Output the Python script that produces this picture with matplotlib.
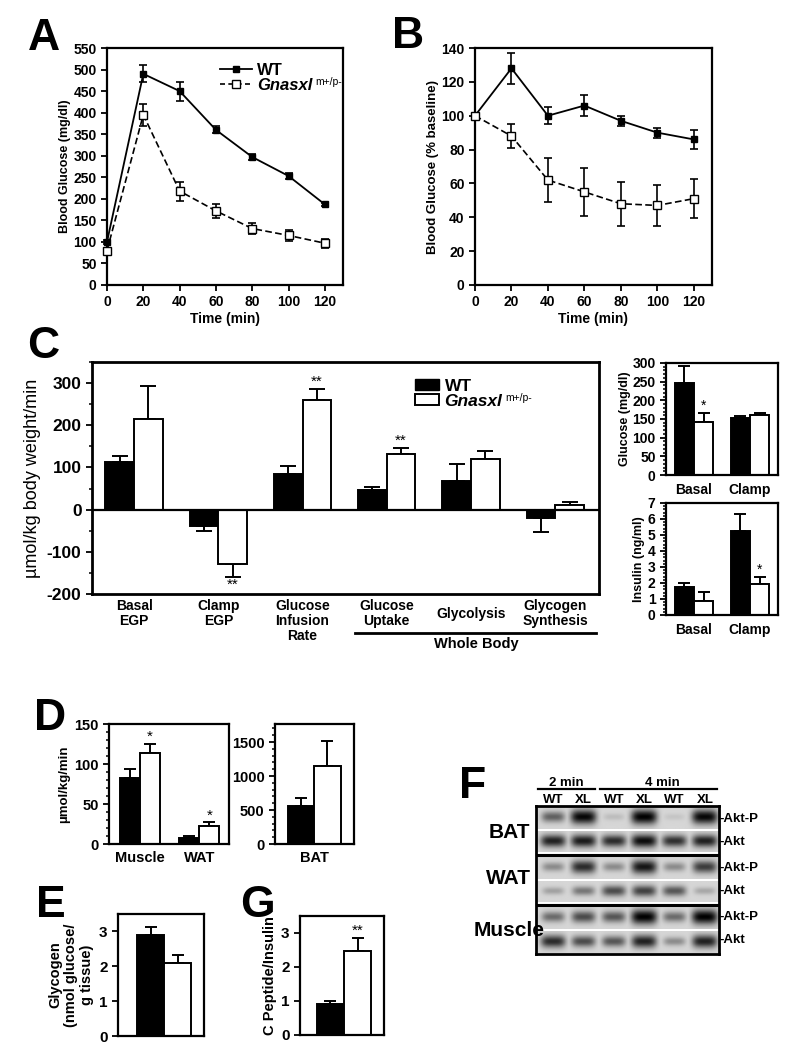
import numpy as np
import matplotlib
matplotlib.use('Agg')
import matplotlib.pyplot as plt
import matplotlib.transforms as mtransforms
from matplotlib.lines import Line2D
from matplotlib.patches import Patch
from matplotlib.ticker import MultipleLocator

plt.rcParams['font.family'] = ['Liberation Sans', 'DejaVu Sans']
plt.rcParams['font.weight'] = 'bold'
plt.rcParams['axes.labelweight'] = 'bold'
plt.rcParams['axes.unicode_minus'] = False

# ---- A: glucose tolerance ----
time_min = [0, 20, 40, 60, 80, 100, 120]
gtt_wt = [100, 490, 450, 360, 297, 253, 187]
gtt_wt_err = [5, 20, 22, 8, 8, 8, 4]
gtt_xl = [80, 395, 218, 172, 131, 115, 97]
gtt_xl_err = [6, 25, 22, 17, 12, 12, 10]

# ---- B: insulin tolerance ----
itt_wt = [100, 128, 100, 106, 97, 90, 86]
itt_wt_err = [0, 9, 5, 6, 3, 3, 5.5]
itt_xl = [100, 88, 62, 55, 48, 47, 51]
itt_xl_err = [0, 7, 13, 14, 13, 12, 11.5]

# ---- C: clamp ----
clamp_cats = ['Basal\nEGP', 'Clamp\nEGP', 'Glucose\nInfusion\nRate',
              'Glucose\nUptake', 'Glycolysis', 'Glycogen\nSynthesis']
clamp_wt = [113, -39, 85, 47, 67, -21]
clamp_wt_err = [15, 12, 18, 6, 41, 33]
clamp_xl = [215, -129, 260, 132, 120, 12]
clamp_xl_err = [79, 30, 26, 14, 18, 7]
clamp_stars = ['', '**', '**', '**', '', '']

cond_cats = ['Basal', 'Clamp']
glu_wt = [246, 152]
glu_wt_err = [47, 5]
glu_xl = [143, 161]
glu_xl_err = [23, 5]
glu_stars = ['*', '']
ins_wt = [1.77, 5.22]
ins_wt_err = [0.23, 1.1]
ins_xl = [0.9, 1.94]
ins_xl_err = [0.52, 0.42]
ins_stars = ['', '*']

# ---- D: tissue glucose uptake ----
tissue_cats = ['Muscle', 'WAT']
tis_wt = [82, 8]
tis_wt_err = [12, 2]
tis_xl = [114, 22]
tis_xl_err = [11, 5]
tis_stars = ['*', '*']
bat_cat = ['BAT']
bat_wt = [560]
bat_wt_err = [117]
bat_xl = [1147]
bat_xl_err = [368]

# ---- E / G ----
glycogen_wt = [2.9]
glycogen_wt_err = [0.23]
glycogen_xl = [2.1]
glycogen_xl_err = [0.23]
cpep_wt = [0.91]
cpep_wt_err = [0.1]
cpep_xl = [2.46]
cpep_xl_err = [0.39]

# ---- F: western blot band darkness (0-1) ----
blot_lanes = ['WT', 'XL', 'WT', 'XL', 'WT', 'XL']
blot_tissues = ['BAT', 'WAT', 'Muscle']
bat_aktp = [0.55, 0.97, 0.12, 1.0, 0.08, 0.97]
bat_akt = [0.85, 0.88, 0.8, 0.95, 0.78, 0.86]
wat_aktp = [0.35, 0.8, 0.35, 0.9, 0.35, 0.72]
wat_akt = [0.25, 0.45, 0.65, 0.7, 0.6, 0.22]
mus_aktp = [0.5, 0.65, 0.6, 1.0, 0.5, 1.0]
mus_akt = [0.8, 0.65, 0.6, 0.85, 0.35, 0.85]

W, H = 800, 1052
fig = plt.figure(figsize=(8, 10.52), dpi=100)


def px_axes(x0, y0, x1, y1):
    return fig.add_axes([x0 / W, 1 - y1 / H, (x1 - x0) / W, (y1 - y0) / H])


def fx(x):
    return x / W


def fy(y):
    return 1 - y / H


def style(ax, fs, lw=1.6):
    for s in ax.spines.values():
        s.set_linewidth(lw)
    ax.tick_params(direction='out', width=1.3, length=4, labelsize=fs)
    ax.tick_params(which='minor', direction='out', width=1.1, length=2.5)


def panel_letter(x, y, s):
    fig.text(fx(x), fy(y), s, fontsize=32, fontweight='bold', va='baseline')


def two_bars(ax, x, wt, wt_err, xl, xl_err, w=0.34, cap=4, stars=None, fs=10):
    x = np.asarray(x, dtype=float)
    ax.bar(x - w / 2, wt, w, color='black', edgecolor='black', lw=1.4, zorder=2)
    ax.bar(x + w / 2, xl, w, color='white', edgecolor='black', lw=1.4, zorder=2)
    for xs, v, e in ((x - w / 2, wt, wt_err), (x + w / 2, xl, xl_err)):
        v = np.asarray(v, dtype=float)
        e = np.asarray(e, dtype=float)
        lo = np.where(v < 0, e, 0)
        hi = np.where(v >= 0, e, 0)
        ax.errorbar(xs, v, yerr=[lo, hi], fmt='none', ecolor='black',
                    elinewidth=1.4, capsize=cap, capthick=1.4, zorder=1)
    if stars:
        for xi, v, e, s in zip(x + w / 2, xl, xl_err, stars):
            if not s:
                continue
            if v >= 0:
                ax.annotate(s, (xi, v + e), xytext=(0, 0), textcoords='offset points',
                            ha='center', va='bottom', fontsize=fs, fontweight='normal')
            else:
                ax.annotate(s, (xi, v - e), xytext=(0, -1), textcoords='offset points',
                            ha='center', va='top', fontsize=fs, fontweight='normal')


sup_after = []  # legend texts that get the m+/p- superscript

# ================= A =================
axA = px_axes(107, 48, 343, 285)
axA.errorbar(time_min, gtt_wt, yerr=gtt_wt_err, color='black', marker='s', ms=4,
             mfc='black', lw=1.3, capsize=3, elinewidth=1.2, capthick=1.2,
             clip_on=False, zorder=3)
axA.errorbar(time_min, gtt_xl, yerr=gtt_xl_err, color='black', marker='s', ms=6,
             mfc='white', lw=1.2, ls=(0, (4, 2)), capsize=3, elinewidth=1.2,
             capthick=1.2, clip_on=False, zorder=4)
axA.set_xlim(0, 130)
axA.set_ylim(0, 550)
axA.set_xticks(time_min)
axA.set_yticks(np.arange(0, 551, 50))
axA.set_xlabel('Time (min)', fontsize=10, labelpad=2)
axA.set_ylabel('Blood Glucose (mg/dl)', fontsize=9, labelpad=2)
style(axA, 10)
h_wt = Line2D([], [], color='black', marker='s', ms=4, lw=1.3)
h_xl = Line2D([], [], color='black', marker='s', ms=6, mfc='white', lw=1.2, ls=(0, (3, 2)))
leg = axA.legend([h_wt, h_xl], ['WT', 'Gnasxl'], loc='upper left',
                 bbox_to_anchor=(0.43, 0.985), frameon=False, fontsize=12,
                 handlelength=1.9, handletextpad=0.3, labelspacing=0.0, borderpad=0.2)
leg.get_texts()[1].set_fontstyle('italic')
sup_after.append(leg.get_texts()[1])
panel_letter(28, 50, 'A')

# ================= B =================
axB = px_axes(475, 48, 712, 285)
axB.errorbar(time_min, itt_wt, yerr=itt_wt_err, color='black', marker='s', ms=4,
             mfc='black', lw=1.3, capsize=3, elinewidth=1.2, capthick=1.2,
             clip_on=False, zorder=3)
axB.errorbar(time_min, itt_xl, yerr=itt_xl_err, color='black', marker='s', ms=6,
             mfc='white', lw=1.2, ls=(0, (4, 2)), capsize=3, elinewidth=1.2,
             capthick=1.2, clip_on=False, zorder=4)
axB.set_xlim(0, 130)
axB.set_ylim(0, 140)
axB.set_xticks(time_min)
axB.set_yticks(np.arange(0, 141, 20))
axB.set_xlabel('Time (min)', fontsize=10, labelpad=2)
axB.set_ylabel('Blood Glucose (% baseline)', fontsize=9.5, labelpad=2)
style(axB, 10)
panel_letter(392, 48, 'B')

# ================= C =================
axC = px_axes(92, 362, 599, 594)
xc = np.arange(len(clamp_cats))
two_bars(axC, xc, clamp_wt, clamp_wt_err, clamp_xl, clamp_xl_err, cap=6,
         stars=clamp_stars, fs=11)
axC.axhline(0, color='black', lw=1.6, zorder=3)
axC.set_xlim(-0.5, 5.52)
axC.set_ylim(-200, 350)
axC.set_yticks([-200, -100, 0, 100, 200, 300])
axC.yaxis.set_minor_locator(MultipleLocator(50))
axC.set_xticks([])
axC.set_ylabel('µmol/kg body weight/min', fontsize=13, fontweight='normal', labelpad=4)
style(axC, 12.5, lw=2)
tr = mtransforms.blended_transform_factory(axC.transData, fig.transFigure)
for xi, lab in zip(xc, clamp_cats):
    if '\n' in lab:
        axC.text(xi, fy(599), lab, transform=tr, ha='center', va='top', fontsize=10,
                 linespacing=1.1)
    else:
        axC.text(xi, fy(614), lab, transform=tr, ha='center', va='center', fontsize=10)
fig.add_artist(Line2D([fx(355), fx(596)], [fy(633), fy(633)], color='black', lw=2))
fig.text(fx(476), fy(637), 'Whole Body', ha='center', va='top', fontsize=10.5)
legC = axC.legend([Patch(facecolor='black', edgecolor='black'),
                   Patch(facecolor='white', edgecolor='black', lw=1.4)],
                  ['WT', 'Gnasxl'], loc='upper left',
                  bbox_to_anchor=(0.62, 0.965), frameon=False, fontsize=12.5,
                  handlelength=1.4, handleheight=0.65, handletextpad=0.3,
                  labelspacing=0.0, borderpad=0)
legC.get_texts()[1].set_fontstyle('italic')
sup_after.append(legC.get_texts()[1])
panel_letter(27, 358, 'C')

# glucose during clamp
axCg = px_axes(666, 363, 778, 475)
two_bars(axCg, [0, 1], glu_wt, glu_wt_err, glu_xl, glu_xl_err, cap=4, stars=glu_stars)
axCg.set_xlim(-0.5, 1.5)
axCg.set_ylim(0, 300)
axCg.set_yticks(np.arange(0, 301, 50))
axCg.yaxis.set_minor_locator(MultipleLocator(10))
axCg.set_xticks([0, 1])
axCg.set_xticklabels(cond_cats)
axCg.set_ylabel('Glucose (mg/dl)', fontsize=9, labelpad=1)
style(axCg, 10)
axCg.tick_params(axis='x', length=0, pad=6)

# insulin during clamp
axCi = px_axes(666, 503, 778, 615)
two_bars(axCi, [0, 1], ins_wt, ins_wt_err, ins_xl, ins_xl_err, cap=4, stars=ins_stars)
axCi.set_xlim(-0.5, 1.5)
axCi.set_ylim(0, 7)
axCi.set_yticks(np.arange(0, 8, 1))
axCi.yaxis.set_minor_locator(MultipleLocator(0.2))
axCi.set_xticks([0, 1])
axCi.set_xticklabels(cond_cats)
axCi.set_ylabel('Insulin (ng/ml)', fontsize=9, labelpad=2)
style(axCi, 10)
axCi.tick_params(axis='x', length=0, pad=6)

# ================= D =================
axD1 = px_axes(109, 724, 229, 844)
two_bars(axD1, [0, 1], tis_wt, tis_wt_err, tis_xl, tis_xl_err, cap=4, stars=tis_stars, fs=11)
axD1.set_xlim(-0.52, 1.5)
axD1.set_ylim(0, 150)
axD1.set_yticks([0, 50, 100, 150])
axD1.yaxis.set_minor_locator(MultipleLocator(10))
axD1.set_xticks([0, 1])
axD1.set_xticklabels(tissue_cats)
axD1.set_ylabel('µmol/kg/min', fontsize=9.5, labelpad=3)
style(axD1, 10.5)
axD1.tick_params(axis='x', length=0, pad=5)

axD2 = px_axes(275, 724, 354, 844)
two_bars(axD2, [0], bat_wt, bat_wt_err, bat_xl, bat_xl_err, cap=4)
axD2.set_xlim(-0.5, 0.51)
axD2.set_ylim(0, 1765)
axD2.set_yticks([0, 500, 1000, 1500])
axD2.yaxis.set_minor_locator(MultipleLocator(100))
axD2.set_xticks([0])
axD2.set_xticklabels(bat_cat)
style(axD2, 10.5)
axD2.tick_params(axis='x', length=0, pad=5)
panel_letter(34, 730, 'D')

# ================= E =================
axE = px_axes(118, 914, 204, 1036)
two_bars(axE, [0], glycogen_wt, glycogen_wt_err, glycogen_xl, glycogen_xl_err, cap=4)
axE.set_xlim(-0.58, 0.5)
axE.set_ylim(0, 3.5)
axE.set_yticks([0, 1, 2, 3])
axE.set_xticks([])
axE.set_ylabel('Glycogen\n(nmol glucose/\ng tissue)', fontsize=10.5, labelpad=4,
               linespacing=1.15)
style(axE, 11)
panel_letter(36, 917, 'E')

# ================= G =================
axG = px_axes(300, 916, 384, 1035)
two_bars(axG, [0], cpep_wt, cpep_wt_err, cpep_xl, cpep_xl_err, cap=4, stars=['**'], fs=11)
axG.set_xlim(-0.55, 0.5)
axG.set_ylim(0, 3.5)
axG.set_yticks([0, 1, 2, 3])
axG.set_xticks([])
axG.set_ylabel('C Peptide/Insulin', fontsize=10.5, labelpad=3)
style(axG, 11)
panel_letter(240, 917, 'G')

# ================= F =================
axF = px_axes(536, 806, 719, 954)
x_lo, x_hi = -0.56, 5.46


def strip_image(levels):
    xs = np.linspace(x_lo, x_hi, 300)
    ys = np.linspace(0, 1, 40)
    X, Y = np.meshgrid(xs, ys)
    dark = np.zeros_like(X)
    for i, a in enumerate(levels):
        hw = 0.33 + 0.1 * a
        sy = 0.13 + 0.2 * a
        band = a * np.exp(-np.abs((X - i) / hw) ** 4) * np.exp(-((Y - 0.47) / sy) ** 2)
        dark = np.maximum(dark, band)
    return 0.84 - 0.84 * dark


strips = [(bat_aktp, 806, 829), (bat_akt, 831, 852),
          (wat_aktp, 856, 879), (wat_akt, 881, 902),
          (mus_aktp, 906, 929), (mus_akt, 931, 953)]
for levels, y0, y1 in strips:
    axF.imshow(strip_image(levels), cmap='gray', vmin=0, vmax=1, aspect='auto',
               extent=(x_lo, x_hi, y1, y0), interpolation='bilinear')
axF.set_xlim(x_lo, x_hi)
axF.set_ylim(954, 806)
axF.set_facecolor('white')
for yb in (854.5, 904.5):
    axF.axhline(yb, color='black', lw=2.2)
for s in axF.spines.values():
    s.set_linewidth(2)
axF.set_xticks([])
axF.set_yticks([])
for i, lab in enumerate(blot_lanes):
    axF.text(i, 800, lab, ha='center', va='center', fontsize=9.5, clip_on=False)
axF.text(0.45, 783, '2 min', ha='center', va='center', fontsize=9.5, clip_on=False)
axF.text(3.6, 783, '4 min', ha='center', va='center', fontsize=9.5, clip_on=False)
axF.plot([-0.5, 1.38], [789, 789], color='black', lw=1.6, clip_on=False)
axF.plot([1.55, 5.4], [789, 789], color='black', lw=1.6, clip_on=False)
for lab, yl in zip(blot_tissues, (832, 878, 931)):
    axF.text(-1.45, yl, lab, ha='center', va='center', fontsize=15, clip_on=False)
for lab, yl in zip(['-Akt-P', '-Akt', '-Akt-P', '-Akt', '-Akt-P', '-Akt'],
                   (819, 842, 868, 891, 917, 940)):
    axF.text(x_hi + 0.02, yl, lab, ha='left', va='center', fontsize=9.5, clip_on=False)
panel_letter(459, 798, 'F')

# superscripts after the italic genotype labels in both legends
fig.canvas.draw()
inv = fig.transFigure.inverted()
for t in sup_after:
    bb = t.get_window_extent()
    x1, y1 = inv.transform((bb.x1 + 3, bb.y1 + 1))
    fig.text(x1, y1, 'm+/p-', fontsize=7.5, fontweight='normal', ha='left', va='top')

fig.savefig('out.png', dpi=100)
